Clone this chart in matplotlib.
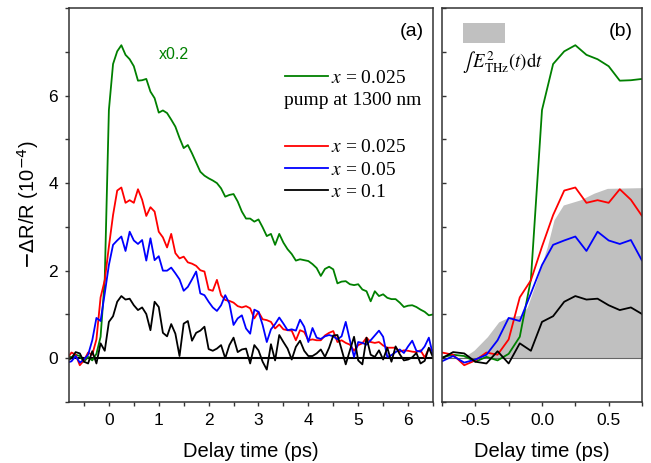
import numpy as np
import matplotlib.pyplot as plt
from matplotlib.ticker import MultipleLocator, FixedLocator
from matplotlib.lines import Line2D
from matplotlib.patches import Rectangle

plt.rcParams['font.family'] = ['Liberation Sans', 'DejaVu Sans']
plt.rcParams['mathtext.fontset'] = 'stix'
plt.rcParams['axes.unicode_minus'] = False

# delay steps of 1/12 ps, from -10/12 to 78/12 ps
delay = np.arange(-10, 79) / 12

green = [0.05, 0.02, 0.08, 0.05, -0.08, 0.03, -0.05, 0.1, 0.49, 1.8,
         5.67, 6.72, 7.01, 7.15, 6.93, 6.83, 6.67, 6.34, 6.35, 6.38,
         6.09, 5.94, 5.61, 5.66, 5.6, 5.45, 5.29, 5.03, 4.8, 4.87,
         4.68, 4.47, 4.26, 4.17, 4.11, 4.06, 4.0, 3.88, 3.69, 3.73,
         3.75, 3.58, 3.35, 3.19, 3.19, 3.12, 3.17, 2.99, 2.79, 2.84,
         2.59, 2.84, 2.64, 2.49, 2.38, 2.23, 2.26, 2.24, 2.22, 2.15,
         2.06, 1.88, 2.04, 2.09, 2.03, 1.71, 1.75, 1.76, 1.69, 1.67,
         1.69, 1.57, 1.53, 1.3, 1.53, 1.42, 1.46, 1.38, 1.35, 1.35,
         1.27, 1.17, 1.2, 1.21, 1.17, 1.11, 1.06, 0.98, 1.0]

red = [0.0, 0.13, 0.08, -0.16, -0.05, 0.13, 0.08, 0.43, 1.39, 1.78,
       2.55, 3.27, 3.83, 3.9, 3.55, 3.61, 3.55, 3.86, 3.62, 3.25,
       3.45, 3.35, 2.89, 2.76, 2.53, 2.84, 2.4, 2.28, 2.32, 2.19,
       2.16, 2.11, 2.01, 1.98, 1.57, 1.54, 1.79, 1.44, 1.33, 1.31,
       1.27, 1.19, 1.16, 1.19, 1.14, 0.91, 1.06, 0.89, 0.87, 0.83,
       0.68, 0.77, 0.66, 0.64, 0.63, 0.41, 0.64, 0.6, 0.41, 0.43,
       0.41, 0.41, 0.52, 0.58, 0.62, 0.37, 0.41, 0.35, 0.31, 0.17,
       0.3, 0.34, 0.47, 0.37, 0.35, 0.37, 0.29, 0.24, 0.24, 0.24,
       0.15, 0.18, 0.17, 0.15, 0.14, 0.18, 0.02, 0.22, 0.18]

blue = [-0.1, -0.07, 0.05, -0.1, -0.03, 0.08, 0.41, 0.92, 0.85, 1.48,
        2.13, 2.59, 2.69, 2.78, 2.45, 2.89, 2.69, 2.61, 2.7, 2.23,
        2.74, 2.24, 2.33, 2.0, 2.0, 2.07, 1.94, 1.8, 1.54, 1.63,
        1.8, 1.98, 1.48, 1.44, 1.29, 1.16, 1.08, 1.21, 1.44, 1.25,
        0.76, 0.91, 0.98, 0.68, 0.56, 1.11, 1.06, 0.76, 0.37, 0.66,
        0.78, 0.93, 0.79, 0.64, 0.66, 0.63, 0.88, 0.72, 0.37, 0.69,
        0.47, 0.44, 0.5, 0.53, 0.5, 0.43, 0.5, 0.83, 0.41, 0.03,
        0.37, 0.35, 0.31, 0.41, 0.52, 0.63, 0.49, 0.03, 0.07, 0.14,
        0.2, 0.12, 0.27, 0.4, 0.17, 0.15, 0.27, 0.47, 0.07]

black = [-0.05, 0.0, 0.14, 0.11, -0.08, -0.12, 0.16, -0.12, 0.34, 0.17,
         0.83, 0.96, 1.29, 1.42, 1.34, 1.36, 1.21, 1.1, 1.16, 1.01,
         0.64, 1.29, 1.17, 0.58, 0.5, 0.78, 0.56, 0.05, 0.79, 0.85,
         0.4, 0.58, 0.63, 0.72, 0.21, 0.17, 0.22, 0.3, 0.0, 0.3,
         0.47, 0.14, 0.2, 0.22, -0.12, 0.3, 0.18, -0.08, -0.26, 0.32,
         -0.05, 0.53, 0.37, 0.22, -0.03, 0.26, 0.4, 0.17, 0.05, 0.05,
         0.11, 0.2, 0.03, 0.24, 0.52, 0.53, 0.2, -0.14, 0.18, 0.49,
         -0.05, -0.14, 0.47, 0.08, 0.03, 0.18, -0.03, 0.24, -0.08, 0.27,
         0.09, -0.05, -0.03, 0.02, 0.12, -0.12, -0.06, 0.24, 0.02]

# integrated THz field, scaled
thz_t = [-0.8, -0.59, -0.51, -0.41, -0.325, -0.24, -0.16, -0.11, -0.04,
         0.04, 0.09, 0.16, 0.29, 0.39, 0.49, 0.8]
thz_val = [0, 0.02, 0.18, 0.49, 0.83, 0.95, 0.98, 1.17, 1.78,
           2.55, 3.16, 3.5, 3.62, 3.77, 3.88, 3.9]

c_green = '#008000'
c_red = '#ff0000'
c_blue = '#0000ff'
c_black = '#000000'
lw = 1.3

fig = plt.figure(figsize=(6.51, 4.63), dpi=100)
ax1 = fig.add_axes([69/651, 1 - 402/463, 364/651, 394/463])
ax2 = fig.add_axes([442/651, 1 - 402/463, 200/651, 394/463])

# panel (a)
ax1.axhline(0, color='black', lw=1.5, zorder=1)
ax1.plot(delay, green, color=c_green, lw=lw)
ax1.plot(delay, red, color=c_red, lw=lw)
ax1.plot(delay, blue, color=c_blue, lw=lw)
ax1.plot(delay, black, color=c_black, lw=lw)
ax1.set_xlim(-0.8, 6.5)
ax1.set_ylim(-1, 8)
ax1.xaxis.set_major_locator(MultipleLocator(1))
ax1.xaxis.set_minor_locator(MultipleLocator(0.5))
ax1.yaxis.set_major_locator(FixedLocator([0, 2, 4, 6]))
ax1.yaxis.set_minor_locator(MultipleLocator(1))
ax1.set_xlabel('Delay time (ps)', fontsize=14.5, labelpad=10)
ax1.set_ylabel(r'$-\Delta$R/R (10$^{-4}$)', fontsize=14.5, labelpad=5,
               math_fontfamily='dejavusans')

ax1.text(0.247, 0.881, 'x0.2', color=c_green, fontsize=11.5,
         transform=ax1.transAxes, va='center')
ax1.text(0.975, 0.94, '(a)', fontsize=14, ha='right', va='center',
         transform=ax1.transAxes)

serif = {'family': 'Liberation Serif', 'size': 14}
leg1 = ax1.legend([Line2D([], [], color=c_green, lw=lw)], [r'$x$ = 0.025'],
                  loc='upper left', bbox_to_anchor=(0.594, 0.845),
                  frameon=False, prop=serif, handlelength=2.2,
                  handletextpad=0.15, borderpad=0, borderaxespad=0)
ax1.add_artist(leg1)
ax1.text(0.59, 0.766, 'pump at 1300 nm', fontdict=serif,
         transform=ax1.transAxes, va='center')
ax1.legend([Line2D([], [], color=c, lw=lw) for c in (c_red, c_blue, c_black)],
           [r'$x$ = 0.025', r'$x$ = 0.05', r'$x$ = 0.1'],
           loc='upper left', bbox_to_anchor=(0.594, 0.668),
           frameon=False, prop=serif, handlelength=2.2,
           handletextpad=0.15, labelspacing=0.24, borderpad=0, borderaxespad=0)

# panel (b)
ax2.fill_between(thz_t, 0, thz_val, color='#c0c0c0', lw=0, zorder=0)
ax2.axhline(0, color='#666666', lw=0.8, zorder=1)
ax2.plot(delay, green, color=c_green, lw=lw)
ax2.plot(delay, red, color=c_red, lw=lw)
ax2.plot(delay, blue, color=c_blue, lw=lw)
ax2.plot(delay, black, color=c_black, lw=lw)
ax2.set_xlim(-0.75, 0.75)
ax2.set_ylim(-1, 8)
ax2.xaxis.set_major_locator(MultipleLocator(0.5))
ax2.xaxis.set_minor_locator(MultipleLocator(0.25))
ax2.yaxis.set_major_locator(FixedLocator([0, 2, 4, 6]))
ax2.yaxis.set_minor_locator(MultipleLocator(1))
ax2.xaxis.set_major_formatter(lambda v, p: f'{v:.1f}')
ax2.set_yticklabels([])
ax2.set_xlabel('Delay time (ps)', fontsize=14.5, labelpad=10)
ax2.text(0.955, 0.94, '(b)', fontsize=14, ha='right', va='center',
         transform=ax2.transAxes)
ax2.add_patch(Rectangle((0.105, 0.911), 0.21, 0.051, transform=ax2.transAxes,
                        facecolor='#c0c0c0', edgecolor='none'))
ax2.text(0.1, 0.86, r'$\int\,E^2_{\mathrm{THz}}(t)\mathrm{d}t$', fontsize=13.5,
         transform=ax2.transAxes, va='center')

for ax in (ax1, ax2):
    for sp in ax.spines.values():
        sp.set_color('#333333')
        sp.set_linewidth(1.1)
    ax.tick_params(which='both', length=3, width=1, color='#333333',
                   labelsize=12.5, pad=5)
ax2.tick_params(axis='y', which='both', direction='in')

fig.savefig('out.png', dpi=100)
